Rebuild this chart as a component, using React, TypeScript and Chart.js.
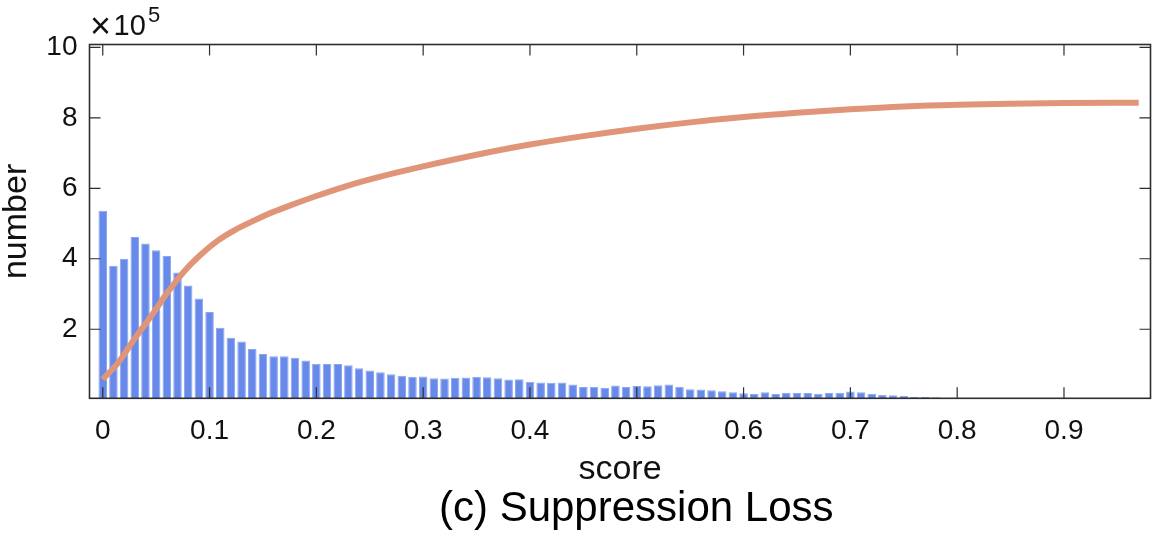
import { useEffect, useRef } from "react";
import { Chart, registerables } from "chart.js";

Chart.register(...registerables);

// Histogram bin centres (score) and bar heights (x 10^5)
const binCenters = [
  0.0, 0.01, 0.02, 0.03, 0.04, 0.05, 0.06, 0.07, 0.08, 0.09,
  0.1, 0.11, 0.12, 0.13, 0.14, 0.15, 0.16, 0.17, 0.18, 0.19,
  0.2, 0.21, 0.22, 0.23, 0.24, 0.25, 0.26, 0.27, 0.28, 0.29,
  0.3, 0.31, 0.32, 0.33, 0.34, 0.35, 0.36, 0.37, 0.38, 0.39,
  0.4, 0.41, 0.42, 0.43, 0.44, 0.45, 0.46, 0.47, 0.48, 0.49,
  0.5, 0.51, 0.52, 0.53, 0.54, 0.55, 0.56, 0.57, 0.58, 0.59,
  0.6, 0.61, 0.62, 0.63, 0.64, 0.65, 0.66, 0.67, 0.68, 0.69,
  0.7, 0.71, 0.72, 0.73, 0.74, 0.75, 0.76, 0.77, 0.78, 0.79,
];
const barCounts = [
  5.36, 3.8, 4.0, 4.62, 4.43, 4.24, 4.08, 3.61, 3.24, 2.87,
  2.49, 2.04, 1.76, 1.65, 1.44, 1.3, 1.23, 1.23, 1.19, 1.11,
  1.02, 1.01, 1.01, 0.98, 0.89, 0.83, 0.78, 0.72, 0.68, 0.65,
  0.66, 0.61, 0.6, 0.62, 0.63, 0.65, 0.64, 0.61, 0.57, 0.58,
  0.51, 0.49, 0.48, 0.49, 0.43, 0.36, 0.37, 0.34, 0.4, 0.36,
  0.39, 0.38, 0.41, 0.43, 0.37, 0.3, 0.29, 0.27, 0.24, 0.21,
  0.18, 0.16, 0.21, 0.16, 0.2, 0.19, 0.19, 0.17, 0.19, 0.2,
  0.23, 0.21, 0.17, 0.14, 0.13, 0.11, 0.08, 0.08, 0.07, 0.04,
];

// Cumulative curve (x 10^5)
const curveX = [
  0.0, 0.015, 0.03, 0.046, 0.061, 0.077, 0.093, 0.108, 0.124, 0.14,
  0.155, 0.17, 0.2, 0.229, 0.26, 0.3, 0.35, 0.4, 0.45, 0.5,
  0.55, 0.6, 0.65, 0.7, 0.75, 0.8, 0.85, 0.9, 0.97,
];
const curveY = [
  0.58, 1.07, 1.74, 2.4, 3.06, 3.67, 4.15, 4.52, 4.82, 5.06,
  5.27, 5.45, 5.78, 6.07, 6.33, 6.62, 6.95, 7.24, 7.48, 7.69,
  7.87, 8.02, 8.14, 8.24, 8.32, 8.37, 8.4, 8.42, 8.43,
];

const xTicks = [0, 0.1, 0.2, 0.3, 0.4, 0.5, 0.6, 0.7, 0.8, 0.9];
const xTickLabels = ["0", "0.1", "0.2", "0.3", "0.4", "0.5", "0.6", "0.7", "0.8", "0.9"];
const yTicks = [2, 4, 6, 8, 10];
const yTickLabels = ["2", "4", "6", "8", "10"];

const FONT = "'Liberation Sans', Arial, sans-serif";
const INK = "#111111";
const FRAME = "#2e2e2e";

const captionShift = {
  id: "captionShift",
  afterLayout(chart: any) {
    const t = chart.titleBlock;
    if (t) {
      t.left += 61;
      t.right += 61;
    }
  },
};

const framePlugin = {
  id: "matlabFrame",
  afterDraw(chart: any) {
    const { ctx, chartArea: a, scales } = chart;
    const x = scales.x;
    const y = scales.y;
    ctx.save();
    ctx.strokeStyle = FRAME;
    ctx.lineWidth = 1.2;
    const tl = 11;
    ctx.beginPath();
    for (const v of xTicks) {
      const px = x.getPixelForValue(v);
      ctx.moveTo(px, a.bottom);
      ctx.lineTo(px, a.bottom - tl);
      ctx.moveTo(px, a.top);
      ctx.lineTo(px, a.top + tl);
    }
    for (const v of yTicks) {
      const py = y.getPixelForValue(v);
      ctx.moveTo(a.left, py);
      ctx.lineTo(a.left + tl, py);
      ctx.moveTo(a.right, py);
      ctx.lineTo(a.right - tl, py);
    }
    ctx.stroke();
    ctx.lineWidth = 1.6;
    ctx.strokeRect(a.left, a.top, a.right - a.left, a.bottom - a.top);

    // exponent label
    ctx.fillStyle = INK;
    ctx.textAlign = "left";
    ctx.textBaseline = "middle";
    ctx.font = `36px ${FONT}`;
    ctx.fillText("\u00d7", a.left + 0.5, a.top - 16.5);
    ctx.textBaseline = "alphabetic";
    ctx.font = `29px ${FONT}`;
    ctx.fillText("10", a.left + 24, a.top - 9.5);
    ctx.font = `22px ${FONT}`;
    ctx.fillText("5", a.left + 58.5, a.top - 22.5);
    ctx.restore();
  },
};

export default function App() {
  const ref = useRef<HTMLCanvasElement | null>(null);

  useEffect(() => {
    if (!ref.current) return;
    const chart = new Chart(ref.current, {
      type: "bar",
      data: {
        datasets: [
          {
            type: "line",
            data: curveX.map((v, i) => ({ x: v, y: curveY[i] })),
            borderColor: "#E19578",
            borderWidth: 6,
            pointRadius: 0,
            cubicInterpolationMode: "monotone",
            fill: false,
            order: 0,
          } as any,
          {
            type: "bar",
            data: binCenters.map((v, i) => ({ x: v, y: barCounts[i] })),
            backgroundColor: "#6689EA",
            borderColor: "#8AA6F0",
            borderWidth: 1,
            barPercentage: 0.8,
            categoryPercentage: 1,
            order: 1,
          } as any,
        ],
      },
      options: {
        responsive: false,
        animation: false,
        layout: { padding: { top: 44.5, right: 4.5, left: 0, bottom: 0 } },
        plugins: {
          legend: { display: false },
          tooltip: { enabled: false },
          title: {
            display: true,
            text: "(c) Suppression Loss",
            position: "bottom",
            color: "#000",
            font: { family: FONT, size: 42, weight: "normal", lineHeight: 1 },
            padding: { top: 0, bottom: 7.5 },
          },
        },
        scales: {
          x: {
            type: "linear",
            min: -0.0124,
            max: 0.981,
            offset: false,
            grid: { display: false, drawTicks: false },
            border: { display: false },
            afterBuildTicks: (s: any) => {
              s.ticks = xTicks.map((v) => ({ value: v }));
            },
            afterFit: (s: any) => {
              s.height = 90.2;
            },
            ticks: {
              autoSkip: false,
              maxRotation: 0,
              padding: 16.2,
              color: INK,
              font: { family: FONT, size: 28 },
              callback: (_v: any, i: number) => xTickLabels[i],
            },
            title: {
              display: true,
              text: "score",
              color: INK,
              font: { family: FONT, size: 34, lineHeight: 1 },
              padding: { top: 0, bottom: 1.5 },
            },
          },
          y: {
            type: "linear",
            min: 0.04,
            max: 10.08,
            grid: { display: false, drawTicks: false },
            border: { display: false },
            afterBuildTicks: (s: any) => {
              s.ticks = yTicks.map((v) => ({ value: v }));
            },
            afterFit: (s: any) => {
              s.width = 89.5;
            },
            ticks: {
              padding: 12,
              color: INK,
              font: { family: FONT, size: 28 },
              callback: (_v: any, i: number) => yTickLabels[i],
            },
            title: {
              display: true,
              text: "number",
              color: INK,
              font: { family: FONT, size: 34, lineHeight: 1 },
              padding: { top: 0, bottom: 0 },
            },
          },
        },
      } as any,
      plugins: [captionShift, framePlugin],
    });
    return () => chart.destroy();
  }, []);

  return (
    <div style={{ position: "fixed", left: 0, top: 0, width: 1155, height: 538, background: "#fff" }}>
      <canvas ref={ref} width={1155} height={538} style={{ display: "block" }} />
    </div>
  );
}
